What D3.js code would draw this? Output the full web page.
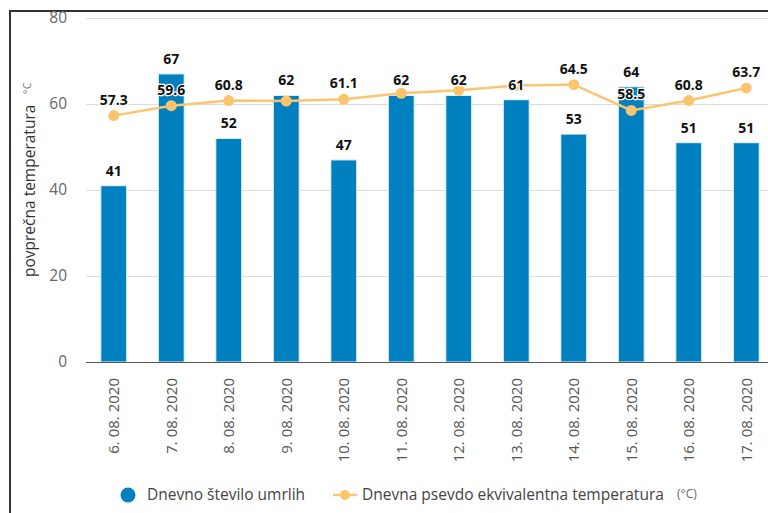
<!DOCTYPE html>
<html>
<head>
<meta charset="utf-8">
<script src="https://cdn.jsdelivr.net/npm/d3@7"></script>
<style>
  html, body { margin: 0; padding: 0; background: #fff; }
  svg { display: block; font-family: "Open Sans", sans-serif; }
</style>
</head>
<body>
<svg id="chart" width="768" height="513"></svg>
<script>
const categories = ["6. 08. 2020","7. 08. 2020","8. 08. 2020","9. 08. 2020","10. 08. 2020","11. 08. 2020","12. 08. 2020","13. 08. 2020","14. 08. 2020","15. 08. 2020","16. 08. 2020","17. 08. 2020"];
const deaths = [41, 67, 52, 62, 47, 62, 62, 61, 53, 64, 51, 51];
const temperature = [57.3, 59.6, 60.8, 60.7, 61.1, 62.5, 63.2, 64.3, 64.5, 58.5, 60.8, 63.7];
const tempLabelShown = [true, true, true, false, true, false, false, false, true, true, true, true];
const yTicks = [0, 20, 40, 60, 80];
const seriesNames = ["Dnevno število umrlih", "Dnevna psevdo ekvivalentna temperatura"];
const yTitle = "povprečna temperatura";
const unit = "°C";

const BLUE = "#0080bf";
const ORANGE = "#fdc46e";

const svg = d3.select("#chart");

const x = d3.scaleBand().domain(categories).range([85, 775]).paddingInner(0.55).paddingOuter(0.275);
const y = d3.scaleLinear().domain([0, 80]).range([362, 18]);

// frame
svg.append("line").attr("x1", 10).attr("x2", 768).attr("y1", 11).attr("y2", 11).attr("stroke", "#333").attr("stroke-width", 2);
svg.append("line").attr("x1", 10).attr("x2", 10).attr("y1", 10).attr("y2", 513).attr("stroke", "#333").attr("stroke-width", 2);

// gridlines
svg.append("g").selectAll("line").data(yTicks.filter(d => d > 0)).join("line")
  .attr("x1", 86).attr("x2", 768)
  .attr("y1", d => Math.round(y(d)) + 0.5).attr("y2", d => Math.round(y(d)) + 0.5)
  .attr("stroke", "#dcdcdc").attr("stroke-width", 1);

// y tick labels
svg.append("g").selectAll("text").data(yTicks).join("text")
  .attr("x", 67).attr("y", d => y(d)).attr("dy", "0.35em")
  .attr("text-anchor", "end").attr("font-size", 15.5).attr("fill", "#666")
  .text(d => d);

// y title
svg.append("text")
  .attr("transform", "translate(35,277) rotate(-90)")
  .attr("font-size", 15.5).attr("fill", "#333")
  .text(yTitle);
svg.append("text")
  .attr("transform", "translate(31,94) rotate(-90)")
  .attr("font-size", 11).attr("fill", "#777")
  .text(unit);

// bars
svg.append("g").selectAll("rect").data(deaths).join("rect")
  .attr("x", (d, i) => x(categories[i]))
  .attr("width", x.bandwidth())
  .attr("y", d => y(d))
  .attr("height", d => y(0) - y(d))
  .attr("fill", BLUE)
  .attr("stroke", "#e8f4fb").attr("stroke-width", 1);

// x axis line
svg.append("line").attr("x1", 86).attr("x2", 768).attr("y1", 362.5).attr("y2", 362.5)
  .attr("stroke", "#555").attr("stroke-width", 1);

// x tick labels
svg.append("g").selectAll("text").data(categories).join("text")
  .attr("transform", d => `translate(${x(d) + x.bandwidth() / 2},378) rotate(-90)`)
  .attr("dy", "0.35em")
  .attr("text-anchor", "end").attr("font-size", 15).attr("fill", "#555")
  .text(d => d);

// line
const cx = (i) => x(categories[i]) + x.bandwidth() / 2;
const line = d3.line().x((d, i) => cx(i)).y(d => y(d));
svg.append("path").datum(temperature).attr("d", line)
  .attr("fill", "none").attr("stroke", ORANGE).attr("stroke-width", 2.5);
svg.append("g").selectAll("circle").data(temperature).join("circle")
  .attr("cx", (d, i) => cx(i)).attr("cy", d => y(d)).attr("r", 5.5)
  .attr("fill", ORANGE);

// data labels
const labelStyle = sel => sel.attr("text-anchor", "middle").attr("font-size", 14).attr("font-weight", "bold")
  .attr("fill", "#111").attr("stroke", "#fff").attr("stroke-width", 2.5)
  .attr("stroke-linejoin", "round").attr("paint-order", "stroke");

svg.append("g").selectAll("text").data(deaths).join("text")
  .attr("x", (d, i) => cx(i)).attr("y", d => y(d) - 10)
  .call(labelStyle).text(d => d);

svg.append("g").selectAll("text").data(temperature.map((v, i) => ({v, i})).filter(d => tempLabelShown[d.i])).join("text")
  .attr("x", d => cx(d.i)).attr("y", d => y(d.v) - 11)
  .call(labelStyle).text(d => d.v);

// legend
const lg = svg.append("g");
lg.append("circle").attr("cx", 128).attr("cy", 495).attr("r", 7.5).attr("fill", BLUE);
lg.append("text").attr("x", 147).attr("y", 500).attr("font-size", 15.5).attr("fill", "#444").text(seriesNames[0]);
lg.append("line").attr("x1", 333).attr("x2", 357).attr("y1", 495).attr("y2", 495).attr("stroke", ORANGE).attr("stroke-width", 2.5);
lg.append("circle").attr("cx", 345).attr("cy", 495).attr("r", 5).attr("fill", ORANGE);
lg.append("text").attr("x", 362).attr("y", 500).attr("font-size", 15.5).attr("fill", "#444").text(seriesNames[1]);
lg.append("text").attr("x", 677).attr("y", 498).attr("font-size", 12).attr("fill", "#666").text("(" + unit + ")");
</script>
</body>
</html>
